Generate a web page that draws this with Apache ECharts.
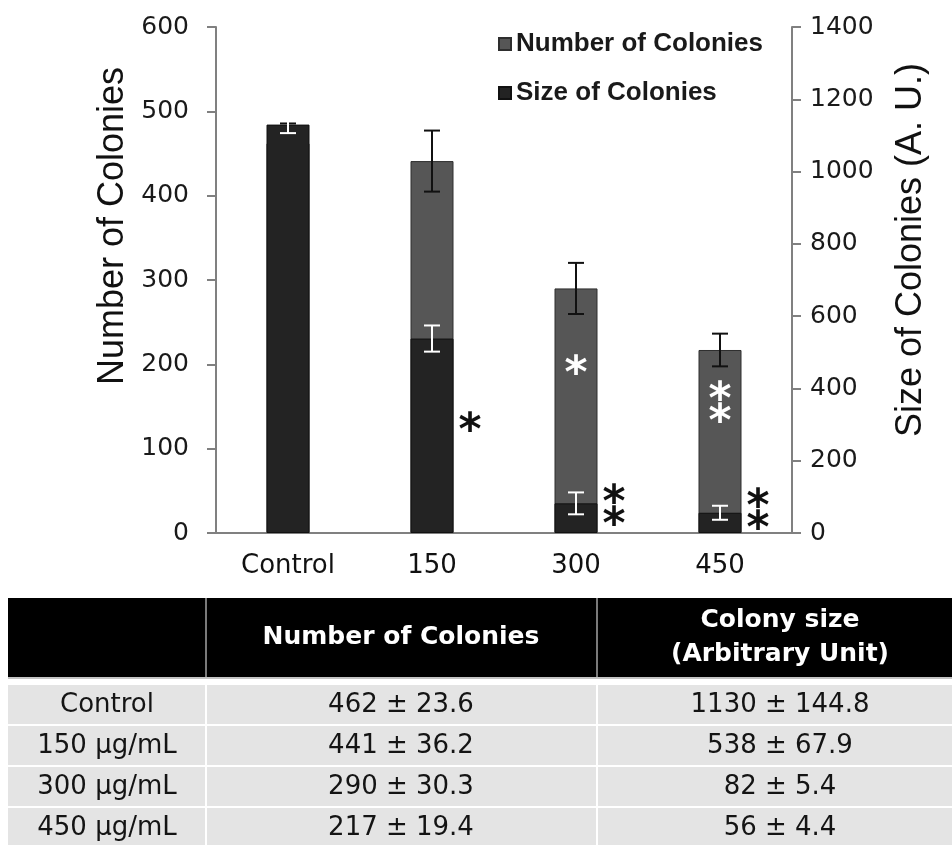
<!DOCTYPE html>
<html>
<head>
<meta charset="utf-8">
<title>Colony formation</title>
<script src="https://cdn.jsdelivr.net/npm/echarts@6/dist/echarts.min.js"></script>
<style>
  html, body { margin: 0; padding: 0; background: #ffffff; }
  #chart { width: 952px; height: 845px; }
</style>
</head>
<body>
<div id="chart"></div>
<script>
// Doses shown on the category axis
const categories = ['Control', '150', '300', '450'];
// Table row headers
const rowLabels = ['Control', '150 µg/mL', '300 µg/mL', '450 µg/mL'];

// Number of colonies (mean and deviation)
const colonyCount = [462, 441, 290, 217];
const colonyCountErr = [23.6, 36.2, 30.3, 19.4];

// Colony size in arbitrary units (mean and deviation)
const colonySize = [1130, 538, 82, 56];
const colonySizeErr = [144.8, 67.9, 5.4, 4.4];

// Half-lengths of the error bars drawn on the size bars (A. U.)
const colonySizeBarErr = [23.6, 36.2, 30.3, 19.4];

// Significance marks
const countSig = ['', '', '*', '**'];
const sizeSig = ['', '*', '**', '**'];

// Axis ticks
const leftTicks = { min: 0, max: 600, interval: 100 };
const rightTicks = { min: 0, max: 1400, interval: 200 };

// Table header texts
const tableHeader = ['', 'Number of Colonies', 'Colony size\n(Arbitrary Unit)'];

// ---------------------------------------------------------------------------
const chart = echarts.init(document.getElementById('chart'), null, { renderer: 'canvas' });

const GRAY = '#565656';
const DARK = '#232323';
const AXIS = '#808080';
const TICK_FONT = 'DejaVu Sans';

// Stack multi-star marks vertically
const stackStars = s => s.split('').join('\n');

function errorBars(name, yAxisIndex, values, errs, color, z) {
  return {
    type: 'custom',
    name: name,
    yAxisIndex: yAxisIndex,
    z: z,
    silent: true,
    data: values.map((v, i) => [i, v, v - errs[i], v + errs[i]]),
    encode: { x: 0, y: [1, 2, 3] },
    renderItem: function (params, api) {
      const i = api.value(0);
      const lo = api.coord([i, api.value(2)]);
      const hi = api.coord([i, api.value(3)]);
      const x = lo[0];
      const half = 8;
      const style = { stroke: color, lineWidth: 2 };
      return {
        type: 'group',
        children: [
          { type: 'line', shape: { x1: x, y1: hi[1], x2: x, y2: lo[1] }, style: style },
          { type: 'line', shape: { x1: x - half, y1: hi[1], x2: x + half, y2: hi[1] }, style: style },
          { type: 'line', shape: { x1: x - half, y1: lo[1], x2: x + half, y2: lo[1] }, style: style }
        ]
      };
    }
  };
}

// Distance of the white marks below the top of the count bars
const countSigDistance = [0, 0, 76, 41];

const starFont = { fontFamily: 'DejaVu Sans', fontWeight: 'bold', fontSize: 44, lineHeight: 22 };

const countData = colonyCount.map((v, i) => ({
  value: v,
  label: countSig[i] ? Object.assign({
    show: true,
    position: 'insideTop',
    distance: countSigDistance[i],
    color: '#ffffff',
    formatter: stackStars(countSig[i])
  }, starFont) : { show: false }
}));

const sizeData = colonySize.map((v, i) => ({
  value: v,
  label: sizeSig[i] ? Object.assign({
    show: true,
    position: 'right',
    distance: 5,
    offset: [0, -3],
    color: '#111111',
    formatter: stackStars(sizeSig[i])
  }, starFont) : { show: false }
}));

// ---------------------------------------------------------------------------
// Table built from the same arrays
const table = {
  cols: [8, 206, 597, 952],
  centers: [107, 401, 780],
  headTop: 598,
  headBottom: 677,
  rowTop: 685,
  rowPitch: 41,
  rowHeight: 39
};

const graphics = [];

// Axis titles
graphics.push({
  type: 'text', x: 113, y: 226, rotation: Math.PI / 2,
  style: { text: 'Number of Colonies', fontFamily: 'Liberation Sans', fontSize: 36,
           fill: '#111', align: 'center', verticalAlign: 'middle' }
});
graphics.push({
  type: 'text', x: 911, y: 250, rotation: Math.PI / 2,
  style: { text: 'Size of Colonies (A. U.)', fontFamily: 'Liberation Sans', fontSize: 36,
           fill: '#111', align: 'center', verticalAlign: 'middle' }
});

// Header band
graphics.push({
  type: 'rect',
  shape: { x: table.cols[0], y: table.headTop, width: table.cols[3] - table.cols[0], height: table.headBottom - table.headTop },
  style: { fill: '#000000' }
});
graphics.push({
  type: 'rect',
  shape: { x: table.cols[0], y: table.headBottom, width: table.cols[3] - table.cols[0], height: 2 },
  style: { fill: '#c4c4c4' }
});
[1, 2].forEach(c => {
  graphics.push({
    type: 'rect',
    shape: { x: table.cols[c] - 1, y: table.headTop, width: 2, height: table.headBottom - table.headTop },
    style: { fill: '#7a7a7a' }
  });
});
tableHeader.forEach((t, c) => {
  if (!t) return;
  graphics.push({
    type: 'text', x: table.centers[c], y: (table.headTop + table.headBottom) / 2,
    style: { text: t, fontFamily: 'DejaVu Sans', fontWeight: 'bold', fontSize: 25, lineHeight: 34,
             fill: '#ffffff', align: 'center', verticalAlign: 'middle' }
  });
});

// Body rows
rowLabels.forEach((label, r) => {
  const top = table.rowTop + r * table.rowPitch;
  const h = r === rowLabels.length - 1 ? 845 - top + 10 : table.rowHeight;
  table.cols.slice(0, 3).forEach((x0, c) => {
    graphics.push({
      type: 'rect',
      shape: { x: x0 + (c ? 1 : 0), y: top, width: table.cols[c + 1] - x0 - (c ? 1 : 0) - (c < 2 ? 1 : 0), height: h },
      style: { fill: '#e4e4e4' }
    });
  });
  const cells = [
    label,
    colonyCount[r] + ' ± ' + colonyCountErr[r].toFixed(1),
    colonySize[r] + ' ± ' + colonySizeErr[r].toFixed(1)
  ];
  cells.forEach((t, c) => {
    graphics.push({
      type: 'text', x: table.centers[c], y: top + 20,
      style: { text: t, fontFamily: 'DejaVu Sans', fontSize: 26,
               fill: '#141414', align: 'center', verticalAlign: 'middle' }
    });
  });
});

// ---------------------------------------------------------------------------
const plainNumber = v => String(v);

const option = {
  backgroundColor: '#ffffff',
  animation: false,
  grid: { left: 216, right: 160, top: 27, bottom: 312, containLabel: false, outerBoundsMode: 'none' },
  legend: {
    data: ['Number of Colonies', 'Size of Colonies'],
    orient: 'vertical',
    left: 493,
    top: 26,
    icon: 'rect',
    itemWidth: 12,
    itemHeight: 12,
    itemGap: 23,
    textStyle: { fontFamily: 'Liberation Sans', fontWeight: 'bold', fontSize: 26, color: '#1a1a1a' },
    selectedMode: false
  },
  xAxis: {
    type: 'category',
    data: categories,
    axisLine: { show: true, lineStyle: { color: AXIS, width: 2 } },
    axisTick: { show: false },
    axisLabel: { fontFamily: TICK_FONT, fontSize: 26, color: '#111', margin: 20 },
    splitLine: { show: false }
  },
  yAxis: [
    {
      type: 'value', position: 'left',
      min: leftTicks.min, max: leftTicks.max, interval: leftTicks.interval,
      axisLine: { show: true, lineStyle: { color: AXIS, width: 2 } },
      axisTick: { show: true, inside: false, length: 9, lineStyle: { color: AXIS, width: 2 } },
      axisLabel: { fontFamily: TICK_FONT, fontSize: 25, color: '#1a1a1a', margin: 27, formatter: plainNumber },
      splitLine: { show: false }
    },
    {
      type: 'value', position: 'right',
      min: rightTicks.min, max: rightTicks.max, interval: rightTicks.interval,
      axisLine: { show: true, lineStyle: { color: AXIS, width: 2 } },
      axisTick: { show: true, inside: false, length: 9, lineStyle: { color: AXIS, width: 2 } },
      axisLabel: { fontFamily: TICK_FONT, fontSize: 25, color: '#1a1a1a', margin: 18, formatter: plainNumber },
      splitLine: { show: false }
    }
  ],
  series: [
    {
      name: 'Number of Colonies',
      type: 'bar',
      yAxisIndex: 0,
      barWidth: 43,
      barGap: '-100%',
      z: 2,
      itemStyle: { color: GRAY, borderColor: '#2e2e2e', borderWidth: 1 },
      data: countData
    },
    errorBars('countErr', 0, colonyCount, colonyCountErr, '#111111', 3),
    {
      name: 'Size of Colonies',
      type: 'bar',
      yAxisIndex: 1,
      barWidth: 43,
      barGap: '-100%',
      z: 4,
      itemStyle: { color: DARK, borderColor: '#111111', borderWidth: 1 },
      data: sizeData
    },
    errorBars('sizeErr', 1, colonySize, colonySizeBarErr, '#ffffff', 5)
  ],
  graphic: graphics
};

chart.setOption(option);
</script>
</body>
</html>
